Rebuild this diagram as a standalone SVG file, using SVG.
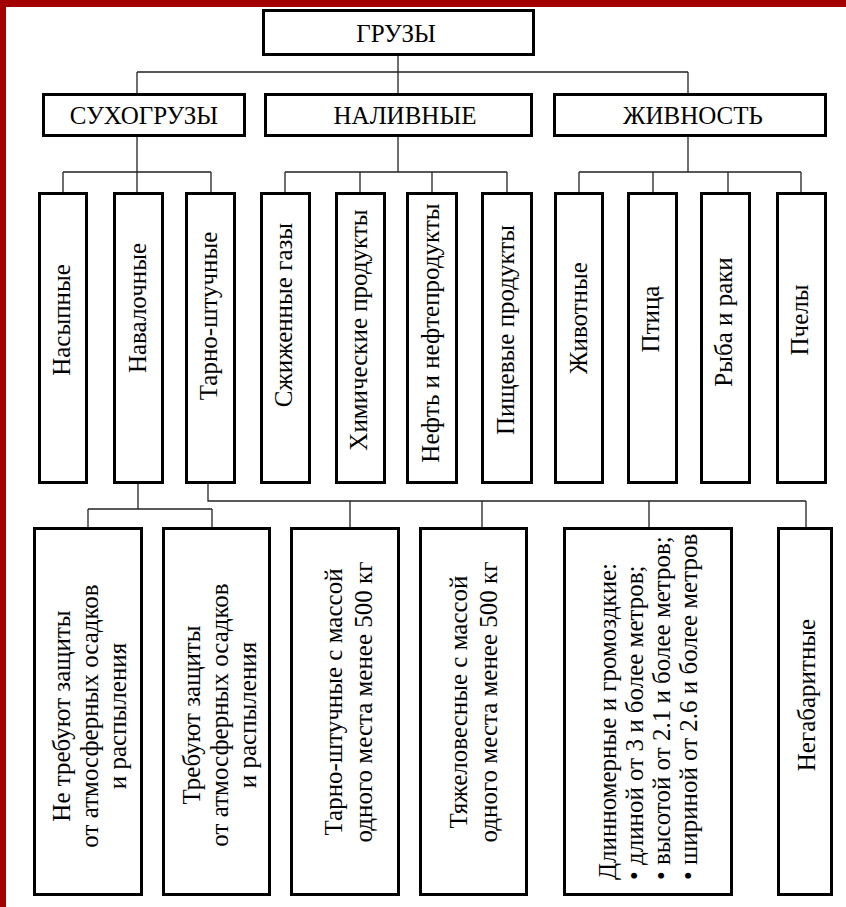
<svg xmlns="http://www.w3.org/2000/svg" width="846" height="907" viewBox="0 0 846 907">
<style>
.box{fill:#fff;stroke:#000;stroke-width:3}
.t{font-family:"Liberation Serif","Times New Roman",serif;font-size:25px;fill:#000}
.m{text-anchor:middle}
.c{fill:none;stroke:#222;stroke-width:1.3}
</style>
<rect x="0" y="0" width="846" height="907" fill="#fff"/>
<rect x="0" y="0" width="6" height="907" fill="#a30000"/>
<rect x="0" y="0" width="846" height="7" fill="#a30000"/>
<g id="connectors" class="c">
<path d="M398 56V93M137 72H688M137 72V93M688 72V93"/>
<path d="M137 137V192M63 172H211M63 172V192M211 172V192"/>
<path d="M398 137V172M285 172H507M285 172V192M360 172V192M432 172V192M507 172V192"/>
<path d="M688 137V172M579 172H801M579 172V192M653 172V192M728 172V192M801 172V192"/>
<path d="M138 484V509M88 509H212M88 509V527M212 509V527"/>
<path d="M208 484V501H806M350 501V527M482 501V527M649 501V527M806 501V527"/>
</g>
<g id="gruzy"><rect class="box" x="263.5" y="10.5" width="270" height="44"/><text class="t m" x="396" y="42">ГРУЗЫ</text></g>
<g id="suhogruzy"><rect class="box" x="43.5" y="94.5" width="201" height="41"/><text class="t m" x="144" y="124">СУХОГРУЗЫ</text></g>
<g id="nalivnye"><rect class="box" x="265.5" y="94.5" width="266" height="41"/><text class="t m" x="405" y="124">НАЛИВНЫЕ</text></g>
<g id="zhivnost"><rect class="box" x="554.5" y="94.5" width="271" height="41"/><text class="t m" x="693" y="124">ЖИВНОСТЬ</text></g>

<g id="nasypnye"><rect class="box" x="39.5" y="193.5" width="47" height="289"/><text class="t m" transform="translate(70,320) rotate(-90)">Насыпные</text></g>
<g id="navalochnye"><rect class="box" x="114.5" y="193.5" width="48" height="289"/><text class="t m" transform="translate(146,308) rotate(-90)">Навалочные</text></g>
<g id="tarno"><rect class="box" x="186.5" y="193.5" width="48" height="289"/><text class="t m" transform="translate(217,316) rotate(-90)">Тарно-штучные</text></g>
<g id="gazy"><rect class="box" x="261.5" y="193.5" width="48" height="289"/><text class="t m" transform="translate(292,315) rotate(-90)">Сжиженные газы</text></g>
<g id="him"><rect class="box" x="336.5" y="193.5" width="48" height="289"/><text class="t m" transform="translate(367,330) rotate(-90)">Химические продукты</text></g>
<g id="neft"><rect class="box" x="407.5" y="193.5" width="49" height="289"/><text class="t m" transform="translate(439,333) rotate(-90)">Нефть и нефтепродукты</text></g>
<g id="pish"><rect class="box" x="482.5" y="193.5" width="49" height="289"/><text class="t m" transform="translate(514,330) rotate(-90)">Пищевые продукты</text></g>
<g id="zhivotnye"><rect class="box" x="555.5" y="193.5" width="47" height="289"/><text class="t m" transform="translate(587,318) rotate(-90)">Животные</text></g>
<g id="ptica"><rect class="box" x="628.5" y="193.5" width="48" height="289"/><text class="t m" transform="translate(659,319) rotate(-90)">Птица</text></g>
<g id="ryba"><rect class="box" x="701.5" y="193.5" width="48" height="289"/><text class="t m" transform="translate(732,322) rotate(-90)">Рыба и раки</text></g>
<g id="pchely"><rect class="box" x="777.5" y="193.5" width="48" height="289"/><text class="t m" transform="translate(808,320) rotate(-90)">Пчелы</text></g>

<g id="ne_treb"><rect class="box" x="34.5" y="528.5" width="107" height="366"/><text class="t m" transform="translate(70,716) rotate(-90)"><tspan x="0" y="0">Не требуют защиты</tspan><tspan x="0" y="28">от атмосферных осадков</tspan><tspan x="0" y="56">и распыления</tspan></text></g>
<g id="treb"><rect class="box" x="163.5" y="528.5" width="106" height="366"/><text class="t m" transform="translate(200,715) rotate(-90)"><tspan x="0" y="0">Требуют защиты</tspan><tspan x="0" y="28">от атмосферных осадков</tspan><tspan x="0" y="56">и распыления</tspan></text></g>
<g id="tarno500"><rect class="box" x="291.5" y="528.5" width="107" height="366"/><text class="t m" transform="translate(342,702) rotate(-90)"><tspan x="0" y="0">Тарно-штучные с массой</tspan><tspan x="0" y="30">одного места менее 500 кг</tspan></text></g>
<g id="tyazh"><rect class="box" x="420.5" y="528.5" width="106" height="366"/><text class="t m" transform="translate(467,702) rotate(-90)"><tspan x="0" y="0">Тяжеловесные с массой</tspan><tspan x="0" y="30">одного места менее 500 кг</tspan></text></g>
<g id="dlinnomer"><rect class="box" x="564.5" y="528.5" width="167" height="366"/><text class="t" transform="translate(616,880) rotate(-90)"><tspan x="0" y="0">Длинномерные и громоздкие:</tspan><tspan x="0" y="27">• длиной от 3 и более метров;</tspan><tspan x="0" y="54">• высотой от 2.1 и более метров;</tspan><tspan x="0" y="81">• шириной от 2.6 и более метров</tspan></text></g>
<g id="negabarit"><rect class="box" x="778.5" y="528.5" width="53" height="366"/><text class="t m" transform="translate(815,695) rotate(-90)">Негабаритные</text></g>
</svg>
